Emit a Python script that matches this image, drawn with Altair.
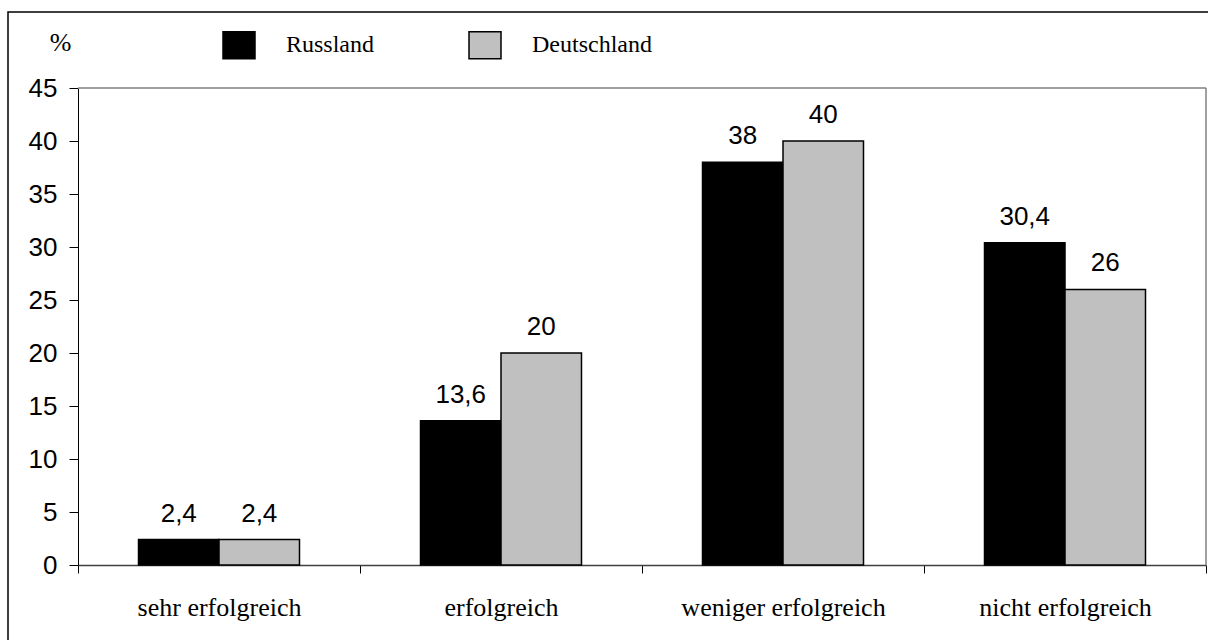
import altair as alt
import pandas as pd

# Survey shares (%) by assessment category
categories = ["sehr erfolgreich", "erfolgreich", "weniger erfolgreich", "nicht erfolgreich"]
countries = ["Russland", "Deutschland"]
russland = [2.4, 13.6, 38, 30.4]
deutschland = [2.4, 20, 40, 26]
y_ticks = [0, 5, 10, 15, 20, 25, 30, 35, 40, 45]
colors = ["#000000", "#c0c0c0"]

rows = []
for cat, r, d in zip(categories, russland, deutschland):
    rows.append({"Kategorie": cat, "Land": "Russland", "Wert": r})
    rows.append({"Kategorie": cat, "Land": "Deutschland", "Wert": d})
df = pd.DataFrame(rows)
df["Beschriftung"] = df["Wert"].map(lambda v: f"{v:g}".replace(".", ","))

W, H = 1128, 477

x_enc = alt.X(
    "Kategorie:N",
    sort=categories,
    scale=alt.Scale(paddingInner=0, paddingOuter=0),
    axis=alt.Axis(
        title=None,
        labelAngle=0,
        labelLimit=400,
        tickBand="extent",
        tickSize=8,
        tickColor="black",
        tickWidth=1,
        domainColor="#404040",
        domainWidth=1.5,
        labelFont="Liberation Serif",
        labelFontSize=26,
        labelColor="black",
        labelPadding=21,
        grid=False,
    ),
)
xoff_enc = alt.XOffset(
    "Land:N",
    sort=countries,
    scale=alt.Scale(paddingInner=0, paddingOuter=0.7516),
)
y_enc = alt.Y(
    "Wert:Q",
    scale=alt.Scale(domain=[0, 45], nice=False),
    axis=alt.Axis(
        values=y_ticks,
        title="%",
        titleAngle=0,
        titleFont="Liberation Serif",
        titleFontSize=26,
        titleFontWeight="normal",
        titleColor="black",
        titleAlign="center",
        titleBaseline="middle",
        titleX=-18,
        titleY=-46,
        labelFont="Liberation Sans",
        labelFontSize=26,
        labelColor="black",
        labelPadding=12,
        tickSize=9,
        tickColor="black",
        domainColor="black",
        domainWidth=1,
        grid=False,
    ),
)

bars = alt.Chart(df).mark_bar(stroke="black", strokeWidth=1.5).encode(
    x=x_enc,
    xOffset=xoff_enc,
    y=y_enc,
    color=alt.Color(
        "Land:N",
        sort=countries,
        scale=alt.Scale(domain=countries, range=colors),
        legend=alt.Legend(
            title=None,
            orient="none",
            legendX=144,
            legendY=-60,
            direction="horizontal",
            symbolType="M-1,-0.84H1V0.84H-1Z",
            symbolSize=1024,
            symbolStrokeColor="black",
            symbolStrokeWidth=1.5,
            symbolOpacity=1,
            labelFont="Liberation Serif",
            labelFontSize=24,
            labelColor="black",
            labelOffset=30,
            columnPadding=91,
            padding=0,
        ),
    ),
)

labels = alt.Chart(df).mark_text(
    font="Liberation Sans", fontSize=26, color="black", baseline="alphabetic", dy=-18
).encode(
    x=alt.X("Kategorie:N", sort=categories),
    xOffset=alt.XOffset("Land:N", sort=countries),
    y="Wert:Q",
    text="Beschriftung:N",
)

one = alt.Data(values=[{}])

# plot-area border on top and right
top_edge = alt.Chart(one).mark_rule(color="#808080", strokeWidth=1.5).encode(
    x=alt.value(0), x2=alt.value(W), y=alt.value(0)
)
right_edge = alt.Chart(one).mark_rule(color="#808080", strokeWidth=1.5).encode(
    x=alt.value(W), y=alt.value(0), y2=alt.value(H)
)

# outer frame around the whole figure
frame = alt.Chart(one).mark_rect(fillOpacity=0, stroke="black", strokeWidth=1.5).encode(
    x=alt.value(-70), x2=alt.value(W + 60), y=alt.value(-76), y2=alt.value(H + 120)
)

chart = (
    alt.layer(frame, top_edge, right_edge, bars, labels)
    .properties(
        width=W,
        height=H,
        padding={"left": 78, "top": 88, "right": 2, "bottom": 75},
        autosize=alt.AutoSizeParams(type="none"),
        background="white",
    )
    .configure_view(stroke="transparent")
)

chart.save("out.html", embed_options={"renderer": "svg", "actions": False})
